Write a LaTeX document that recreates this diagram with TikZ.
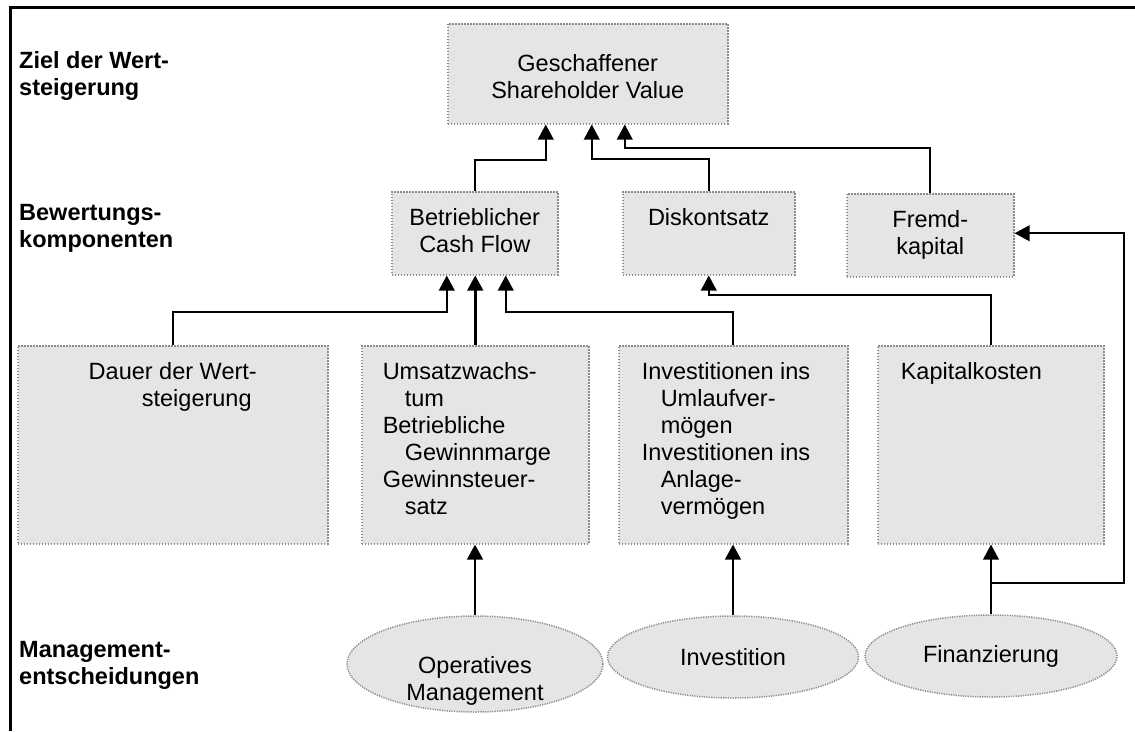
\documentclass[tikz,border=0pt]{standalone}
\usepackage{fontspec}
\setmainfont{Liberation Sans}
\usetikzlibrary{arrows.meta,shapes.geometric}
\newcommand{\boxtext}[4][34pt]{\parbox[t][#3][t]{#2}{\rule{0pt}{#1}#4}}
\begin{document}
\begin{tikzpicture}[x=1pt,y=-1pt,font=\fontsize{23.5}{27}\selectfont,
    box/.style={draw=black!45, dash pattern=on 1.5pt off 1.5pt, line width=1.5pt, fill=black!10, inner sep=0pt, anchor=north west},
    oval/.style={ellipse, draw=black!45, dash pattern=on 1.2pt off 1.2pt, line width=1.5pt, fill=black!10, inner sep=0pt},
    rowlabel/.style={font=\fontsize{23.5}{27}\selectfont\bfseries, anchor=base west, inner sep=0pt},
    arr/.style={line width=2pt, -{Triangle[width=15.5pt,length=15pt]}},
    thickarr/.style={arr, line width=2.8pt}]
    \useasboundingbox (0,0) rectangle (1135,731);
    \draw[line width=2.5pt] (10.5,731) -- (10.5,7.5) -- (1135,7.5);
    \node[rowlabel] (ziel) at (19,68) {\parbox[t]{300pt}{Ziel der Wert-\\steigerung}};
    \node[rowlabel] (bewertung) at (19,220) {\parbox[t]{300pt}{Bewertungs-\\komponenten}};
    \node[rowlabel] (treiber) at (19,440) {\parbox[t]{300pt}{Wert-\\treiber}};
    \node[rowlabel] (entscheidung) at (19,657) {\parbox[t]{300pt}{Management-\\entscheidungen}};
    \node[box] (gsv) at (447,23) {\boxtext[48pt]{280pt}{100pt}{\centering Geschaffener\\Shareholder Value}};
    \node[box] (cf) at (391,191) {\boxtext{166pt}{83pt}{\centering Betrieblicher\\Cash Flow}};
    \node[box] (disk) at (622,191) {\boxtext{172pt}{83pt}{\centering Diskontsatz}};
    \node[box] (fremd) at (846,193) {\boxtext{167pt}{83pt}{\centering Fremd-\\kapital}};
    \node[box] (dauer) at (17,345) {\boxtext{310pt}{198pt}{\centering Dauer der Wert-\\\hspace*{48pt}steigerung}};
    \node[box] (umsatz) at (361,345) {\boxtext{227pt}{198pt}{\leftskip=21pt Umsatzwachs-\\\hspace*{22pt}tum\\Betriebliche\\\hspace*{22pt}Gewinnmarge\\Gewinnsteuer-\\\hspace*{22pt}satz}};
    \node[box] (invest) at (618,345) {\boxtext{229pt}{198pt}{\leftskip=23pt Investitionen ins\\\hspace*{19pt}Umlaufver-\\\hspace*{19pt}m\"ogen\\Investitionen ins\\\hspace*{19pt}Anlage-\\\hspace*{19pt}verm\"ogen}};
    \node[box] (kapital) at (877,345) {\boxtext{226pt}{198pt}{\leftskip=23pt Kapitalkosten}};
    \node[oval, minimum width=256pt, minimum height=96pt] (oper) at (475,664) {};
    \node[align=center, inner sep=0pt] (oper-txt) at (475,681) {Operatives\\Management};
    \node[oval, minimum width=251pt, minimum height=82pt] (inve) at (733,657) {Investition};
    \node[oval, minimum width=252pt, minimum height=82pt] (finz) at (991,656) {Finanzierung};
    \draw[arr] (dauer.north) -- ++(0,-33) -| ([xshift=-28pt]cf.south);
    \draw[thickarr] (umsatz.north) -- (umsatz.north |- cf.south);
    \draw[arr] (invest.north) -- ++(0,-33) -| ([xshift=31pt]cf.south);
    \draw[arr] (kapital.north) -- ++(0,-50) -| (disk.south);
    \draw[arr] (cf.north) -- ++(0,-31) -| ([xshift=-42pt]gsv.south);
    \draw[arr] (disk.north) -- ++(0,-32) -| ([xshift=4pt]gsv.south);
    \draw[arr] (fremd.north) -- ++(0,-45) -| ([xshift=37pt]gsv.south);
    \draw[thickarr] (oper.north) -- (oper.north |- umsatz.south);
    \draw[thickarr] (inve.north) -- (inve.north |- invest.south);
    \draw[arr] (finz.north) -- (finz.north |- kapital.south);
    \draw[arr] ([yshift=31pt]finz.north) -- ++(133,0) |- ([yshift=2pt]fremd.east);
\end{tikzpicture}
\end{document}
